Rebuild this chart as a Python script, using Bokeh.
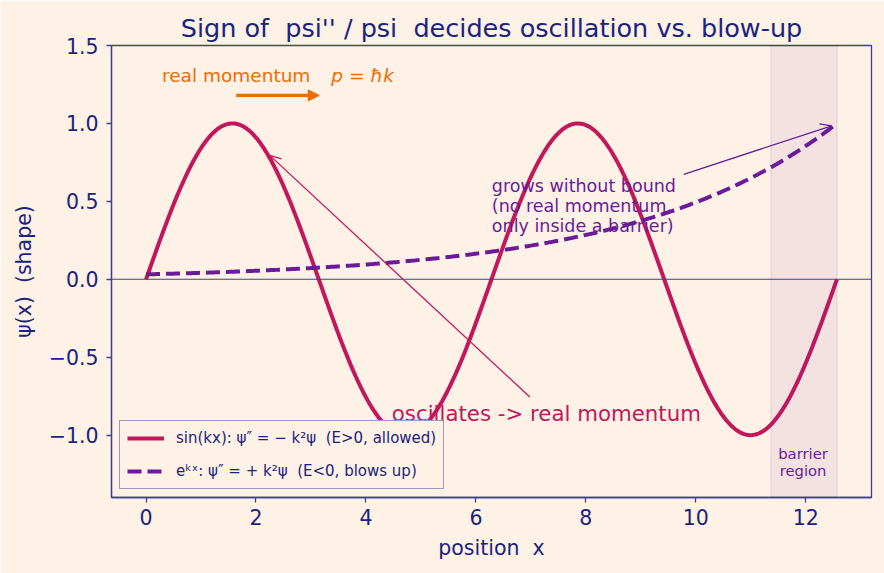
import numpy as np
from bokeh.plotting import figure
from bokeh.models import (Arrow, NormalHead, OpenHead, BoxAnnotation, Span,
                          FixedTicker, Legend, LegendItem, Range1d)
from bokeh.core.properties import value
from bokeh.embed import file_html
from bokeh.resources import INLINE

# Wave parameters
k_wave = 1.0                  # wavenumber of the allowed (oscillating) solution
k_grow = 0.275                # growth rate of the forbidden (exponential) solution
x_max = 4 * np.pi             # two full wavelengths
n_samples = 400

# Barrier span on the x axis
barrier_left = 4 * np.pi - 1.2
barrier_right = 4 * np.pi

# Tick positions and labels
x_ticks = [0, 2, 4, 6, 8, 10, 12]
y_ticks = [-1.0, -0.5, 0.0, 0.5, 1.0, 1.5]
y_tick_labels = ["\u22121.0", "\u22120.5", "0.0", "0.5", "1.0", "1.5"]

x = np.linspace(0, x_max, n_samples)
psi_sin = np.sin(k_wave * x)
psi_exp = np.exp(k_grow * x) / np.exp(k_grow * x_max)

NB = "\u00a0"  # keeps double spaces from collapsing
BG = "#fef1e6"
NAVY = "#1a237e"
SPINE = "#3d418f"
CRIMSON = "#c2185b"
PURPLE = "#6a1b9a"
ORANGE = "#ef6c00"
FONT = "DejaVu Sans"

p = figure(frame_width=760, frame_height=452,
           min_border_left=111, min_border_right=13,
           min_border_top=45, min_border_bottom=76,
           x_range=Range1d(-0.628, 13.195), y_range=Range1d(-1.4, 1.5),
           output_backend="svg", toolbar_location=None,
           background_fill_color=BG, border_fill_color=BG,
           title=f"Sign of {NB}psi'' / psi {NB}decides oscillation vs. blow-up")

p.title.text_font = FONT
p.title.text_font_size = "25.5px"
p.title.text_font_style = "normal"
p.title.text_color = NAVY
p.title.align = "center"
p.title.offset = 2
p.title.standoff = 6

p.grid.visible = False
p.outline_line_color = SPINE
p.outline_line_width = 1.3
p.outline_line_alpha = 1.0

for ax in (p.xaxis[0], p.yaxis[0]):
    ax.axis_line_color = SPINE
    ax.axis_line_width = 1.3
    ax.major_tick_line_color = SPINE
    ax.major_tick_line_width = 1.3
    ax.major_tick_out = 5
    ax.major_tick_in = 0
    ax.minor_tick_line_color = None
    ax.major_label_text_font = FONT
    ax.major_label_text_font_size = "20.5px"
    ax.major_label_text_color = NAVY
    ax.axis_label_text_font = FONT
    ax.axis_label_text_font_size = "20.5px"
    ax.axis_label_text_font_style = "normal"
    ax.axis_label_text_color = NAVY

p.xaxis.ticker = FixedTicker(ticks=x_ticks)
p.yaxis.ticker = FixedTicker(ticks=y_ticks)
p.yaxis.major_label_overrides = {t: lab for t, lab in zip(y_ticks, y_tick_labels)}
p.xaxis.axis_label = f"position {NB}x"
p.yaxis.axis_label = f"\u03c8(x) {NB}(shape)"
p.xaxis.major_label_standoff = 6
p.yaxis.major_label_standoff = 8
p.xaxis.axis_label_standoff = 8
p.yaxis.axis_label_standoff = 10

# Barrier region
p.add_layout(BoxAnnotation(left=barrier_left, right=barrier_right,
                           fill_color=PURPLE, fill_alpha=0.07,
                           line_color=PURPLE, line_alpha=0.1, line_width=1.5))

# Zero line
p.add_layout(Span(location=0, dimension="width", line_color=SPINE, line_width=1.1))

r_sin = p.line(x, psi_sin, line_color=CRIMSON, line_width=4)
r_exp = p.line(x, psi_exp, line_color=PURPLE, line_width=4, line_dash="14 6")

# Momentum arrow and label
p.add_layout(Arrow(end=NormalHead(size=11, fill_color=ORANGE, line_color=ORANGE),
                   x_start=1.64, y_start=1.18, x_end=3.15, y_end=1.18,
                   line_color=ORANGE, line_width=3.2))
p.text(x=[0.29], y=[1.31], text=["real momentum"],
       text_font=value(FONT), text_font_size="18.5px", text_color=ORANGE,
       text_align="left", text_baseline="middle")
p.text(x=[3.37], y=[1.31], text=["p = \u0127k"],
       text_font=value(FONT), text_font_size="18.5px", text_color=ORANGE,
       text_font_style="italic", text_align="left", text_baseline="middle")

# Oscillation annotation
p.add_layout(Arrow(end=OpenHead(size=11, line_color=CRIMSON, line_width=1.3),
                   x_start=6.98, y_start=-0.755, x_end=2.25, y_end=0.795,
                   line_color=CRIMSON, line_width=1.3))
p.text(x=[4.47], y=[-0.86], text=["oscillates -> real momentum"],
       text_font=value(FONT), text_font_size="21.3px", text_color=CRIMSON,
       text_align="left", text_baseline="middle")

# Growth annotation
p.add_layout(Arrow(end=OpenHead(size=11, line_color=PURPLE, line_width=1.3),
                   x_start=9.78, y_start=0.673, x_end=12.47, y_end=0.985,
                   line_color=PURPLE, line_width=1.3))
p.text(x=[6.29], y=[0.468],
       text=["grows without bound\n(no real momentum,\nonly inside a barrier)"],
       text_font=value(FONT), text_font_size="17.5px", text_color=PURPLE,
       text_align="left", text_baseline="middle", text_line_height=1.0)

p.text(x=[11.95], y=[-1.17], text=["barrier\nregion"],
       text_font=value(FONT), text_font_size="14.8px", text_color=PURPLE,
       text_align="center", text_baseline="middle", text_line_height=1.0)

legend = Legend(items=[
    LegendItem(label=f"sin(kx): \u03c8\u2033 = \u2212 k\u00b2\u03c8 {NB}(E>0, allowed)",
               renderers=[r_sin]),
    LegendItem(label=f"e\u1d4f\u02e3: \u03c8\u2033 = + k\u00b2\u03c8 {NB}(E<0, blows up)",
               renderers=[r_exp]),
], location="bottom_left")
legend.label_text_font = FONT
legend.label_text_font_size = "15px"
legend.label_text_color = NAVY
legend.background_fill_color = BG
legend.background_fill_alpha = 1.0
legend.border_line_color = SPINE
legend.border_line_width = 1.3
legend.glyph_width = 37
legend.label_standoff = 12
legend.spacing = 13
legend.padding = 7
legend.margin = 8
p.add_layout(legend)

open("out.html", "w").write(file_html(p, INLINE))
